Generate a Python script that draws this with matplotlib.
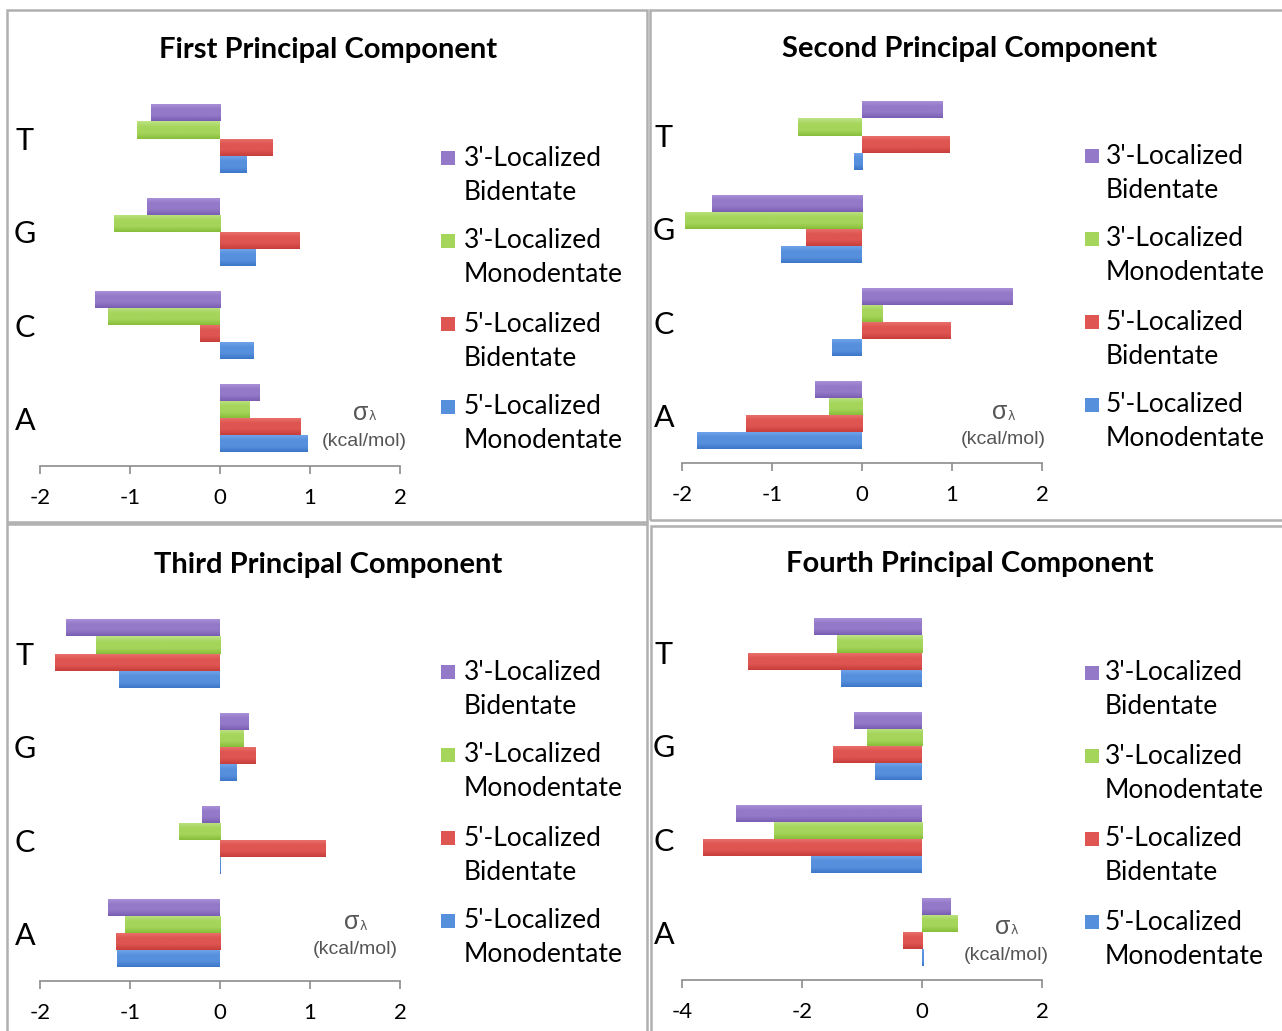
import numpy as np
import matplotlib
matplotlib.use('Agg')
import matplotlib.pyplot as plt
from matplotlib.patches import Rectangle
from matplotlib.colors import LinearSegmentedColormap

W, H = 1282, 1031

bases = ['A', 'C', 'G', 'T']
series_labels = ["3'-Localized\nBidentate", "3'-Localized\nMonodentate",
                 "5'-Localized\nBidentate", "5'-Localized\nMonodentate"]
titles = ['First Principal Component', 'Second Principal Component',
          'Third Principal Component', 'Fourth Principal Component']

# values in order A, C, G, T
pc1_3bi = [0.44, -1.39, -0.81, -0.77]
pc1_3mono = [0.33, -1.24, -1.18, -0.92]
pc1_5bi = [0.89, -0.22, 0.88, 0.58]
pc1_5mono = [0.97, 0.37, 0.39, 0.30]

pc2_3bi = [-0.52, 1.67, -1.67, 0.90]
pc2_3mono = [-0.37, 0.23, -1.97, -0.71]
pc2_5bi = [-1.29, 0.98, -0.62, 0.97]
pc2_5mono = [-1.83, -0.33, -0.90, -0.09]

pc3_3bi = [-1.24, -0.20, 0.32, -1.71]
pc3_3mono = [-1.06, -0.46, 0.26, -1.38]
pc3_5bi = [-1.16, 1.17, 0.39, -1.83]
pc3_5mono = [-1.14, 0.01, 0.18, -1.12]

pc4_3bi = [0.48, -3.10, -1.13, -1.80]
pc4_3mono = [0.60, -2.47, -0.92, -1.42]
pc4_5bi = [-0.32, -3.65, -1.48, -2.90]
pc4_5mono = [0.03, -1.85, -0.78, -1.35]

panel_data = [
    [pc1_3bi, pc1_3mono, pc1_5bi, pc1_5mono],
    [pc2_3bi, pc2_3mono, pc2_5bi, pc2_5mono],
    [pc3_3bi, pc3_3mono, pc3_5bi, pc3_5mono],
    [pc4_3bi, pc4_3mono, pc4_5bi, pc4_5mono],
]
xlims = [(-2, 2), (-2, 2), (-2, 2), (-4, 2)]
xticks = [[-2, -1, 0, 1, 2], [-2, -1, 0, 1, 2], [-2, -1, 0, 1, 2], [-4, -2, 0, 2]]

# (light, mid, dark) per series
colors = [('#ad95db', '#9479c9', '#7a5db2'),
          ('#bde386', '#a5d55a', '#88be3a'),
          ('#eb746f', '#de5551', '#c73d39'),
          ('#74a6eb', '#5690dd', '#3c76c8')]

# layout in pixels: axes left, axes bottom (axis line), panel box, title, legend, sigma label
layout = [
    dict(left=40, bottom=466, box=(7, 10, 647, 522), title=(328, 50), leg=(448, 464, 158), sig=(364, 413), ypad=15),
    dict(left=682, bottom=463, box=(650, 10, 1290, 520), title=(970, 49), leg=(1092, 1106, 156), sig=(1003, 412), ypad=18),
    dict(left=40, bottom=981, box=(7, 524, 647, 1040), title=(328, 565), leg=(448, 464, 672), sig=(355, 922), ypad=15),
    dict(left=682, bottom=980, box=(651, 526, 1290, 1040), title=(970, 564), leg=(1092, 1105, 673), sig=(1006, 927), ypad=18),
]

FONT = 'Lato'
bar_h = 0.1825
ylim = (-0.51, 3.6)
px_per_cat = 93.3

fig = plt.figure(figsize=(W / 100, H / 100), dpi=100)
fig.patch.set_facecolor('white')


def fx(x):
    return x / W


def fy(y):
    return 1 - y / H


for k in range(4):
    lay = layout[k]
    ax_h = (ylim[1] - ylim[0]) * px_per_cat
    ax = fig.add_axes([fx(lay['left']), fy(lay['bottom']), 360 / W, ax_h / H])

    y = np.arange(len(bases))
    for i, vals in enumerate(panel_data[k]):
        light, mid, dark = colors[i]
        offs = (1.5 - i) * bar_h
        bars = ax.barh(y + offs, vals, height=bar_h, color=mid, linewidth=0, zorder=2)
        cmap = LinearSegmentedColormap.from_list('g%d' % i, [dark, mid, mid, light])
        grad = np.linspace(0, 1, 64).reshape(-1, 1)
        for b in bars:
            x0 = min(b.get_x(), b.get_x() + b.get_width())
            x1 = max(b.get_x(), b.get_x() + b.get_width())
            if x1 - x0 <= 0:
                continue
            im = ax.imshow(grad, extent=[x0, x1, b.get_y(), b.get_y() + b.get_height()],
                           origin='lower', aspect='auto', cmap=cmap, zorder=3, interpolation='bilinear')
            im.set_clip_path(b)

    ax.set_xlim(*xlims[k])
    ax.set_ylim(*ylim)
    ax.set_xticks(xticks[k])
    ax.set_xticklabels([str(t) for t in xticks[k]], fontsize=16, family=FONT)
    ax.set_yticks(y)
    ax.set_yticklabels(bases, fontsize=22, family=FONT, ha='center')
    ax.tick_params(axis='y', length=0, pad=lay['ypad'] * 0.72)
    ax.tick_params(axis='x', direction='out', length=6, width=1.2, color='#8c8c8c', pad=10)
    for s in ['top', 'right', 'left']:
        ax.spines[s].set_visible(False)
    ax.spines['bottom'].set_color('#8c8c8c')
    ax.spines['bottom'].set_linewidth(1.2)
    ax.set_facecolor('none')

    # panel frame
    bx0, by0, bx1, by1 = lay['box']
    fig.patches.append(Rectangle((fx(bx0), fy(by1)), (bx1 - bx0) / W, (by1 - by0) / H,
                                 transform=fig.transFigure, fill=False,
                                 edgecolor='#b0b0b0', linewidth=1.8))

    # title
    tx, ty = lay['title']
    fig.text(fx(tx), fy(ty), titles[k], ha='center', va='center', fontsize=21,
             fontweight='bold', family=FONT)

    # legend
    sx, ltx, ly = lay['leg']
    for i, lab in enumerate(series_labels):
        yy = ly + 83 * i
        fig.patches.append(Rectangle((fx(sx - 7), fy(yy + 7)), 14 / W, 14 / H,
                                     transform=fig.transFigure, color=colors[i][1], linewidth=0))
        l1, l2 = lab.split('\n')
        fig.text(fx(ltx), fy(yy), l1, ha='left', va='center', fontsize=19, family=FONT)
        fig.text(fx(ltx), fy(yy + 34), l2, ha='left', va='center', fontsize=19, family=FONT)

    # sigma label
    gx, gy = lay['sig']
    fig.text(fx(gx - 3), fy(gy), 'σ', ha='center', va='center', fontsize=18,
             family='Liberation Sans', color='#555555')
    fig.text(fx(gx + 8), fy(gy + 4), 'λ', ha='center', va='center', fontsize=9,
             family='DejaVu Sans', color='#555555')
    fig.text(fx(gx), fy(gy + 28), '(kcal/mol)', ha='center', va='center', fontsize=14,
             family='Liberation Sans', color='#555555')

fig.savefig('out.png', dpi=100, facecolor='white')
